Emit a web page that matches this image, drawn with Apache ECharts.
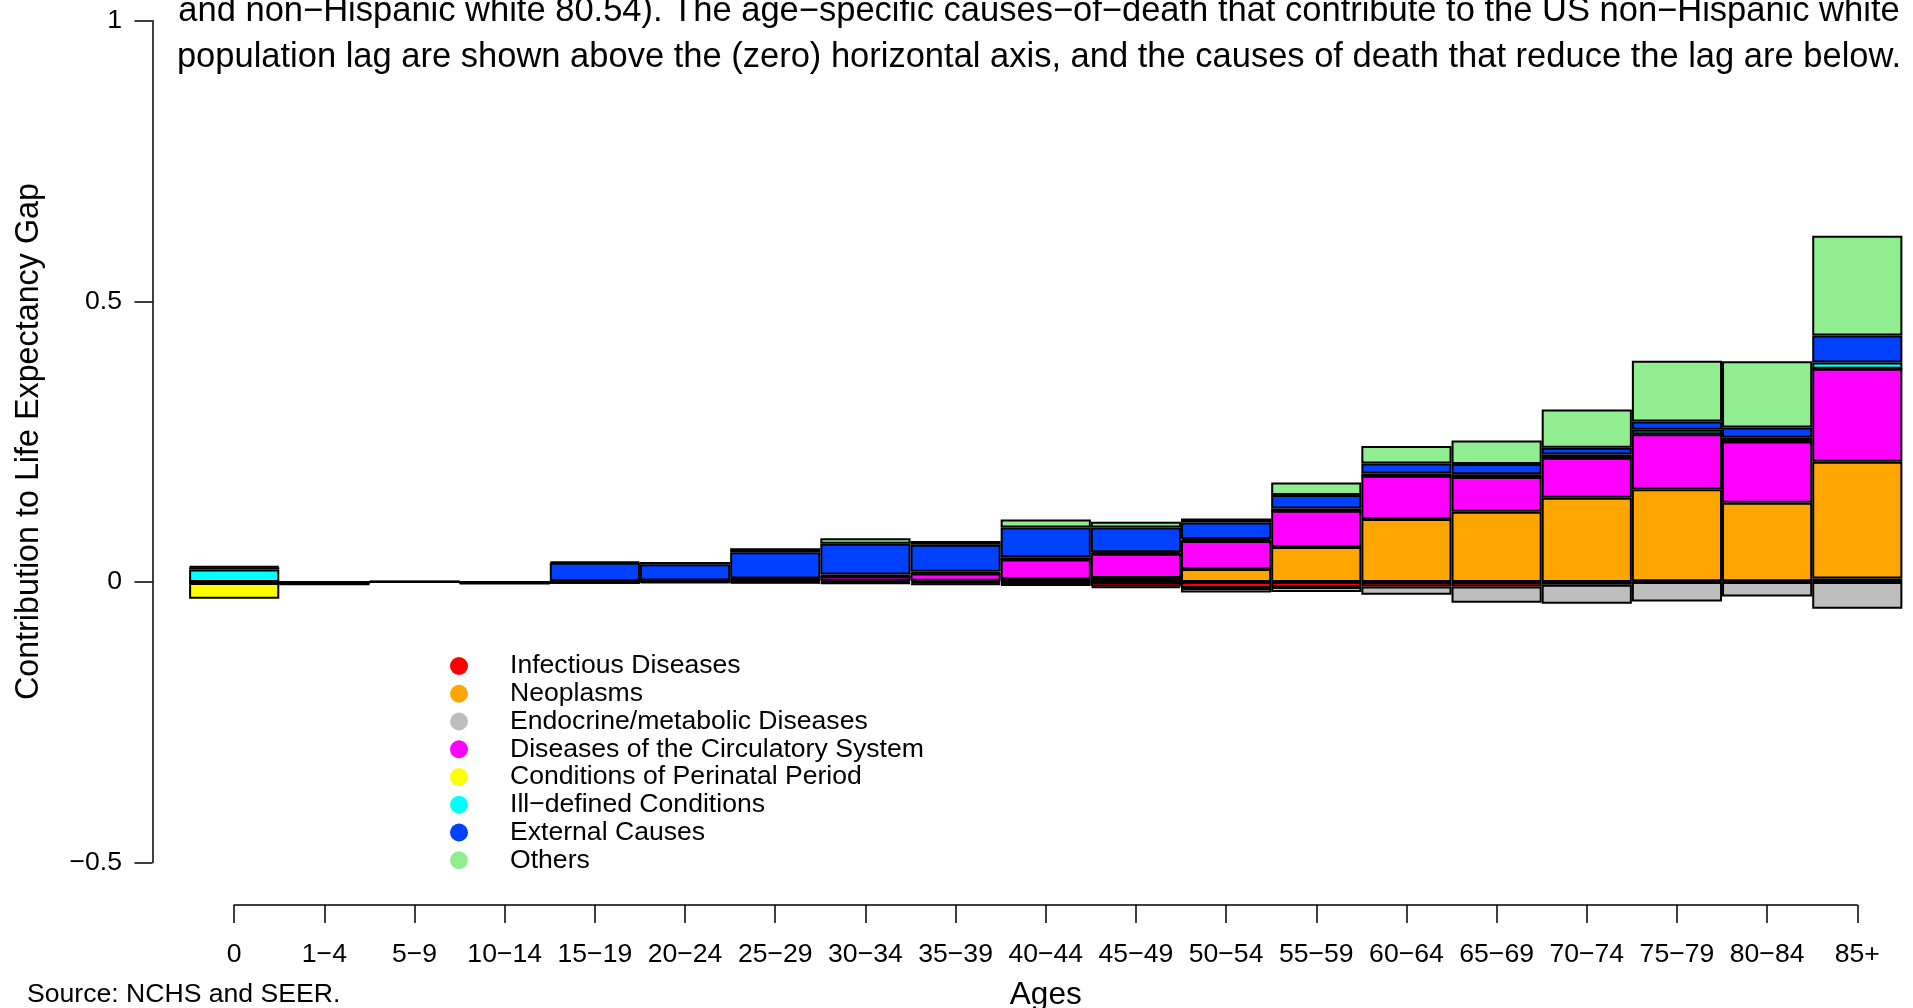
<!DOCTYPE html>
<html><head><meta charset="utf-8">
<script src="https://cdn.jsdelivr.net/npm/echarts@6/dist/echarts.min.js"></script>
<style>html,body{margin:0;padding:0;background:#fff}#c{width:1913px;height:1008px}</style>
</head><body><div id="c"></div>
<script>
const ages = ['0','1\u22124','5\u22129','10\u221214','15\u221219','20\u221224','25\u221229','30\u221234','35\u221239','40\u221244','45\u221249','50\u221254','55\u221259','60\u221264','65\u221269','70\u221274','75\u221279','80\u221284','85+'];
const causes = ['Infectious Diseases','Neoplasms','Endocrine/metabolic Diseases','Diseases of the Circulatory System','Conditions of Perinatal Period','Ill\u2212defined Conditions','External Causes','Others'];
const causeColors = ['#FF0000','#FFA500','#BEBEBE','#FF00FF','#FFFF00','#00FFFF','#0040FF','#90EE90'];
const infectious  = [-0.001,-0.001,0,-0.001,-0.001,-0.002,-0.001,-0.002,-0.003,-0.005,-0.008,-0.011,-0.009,-0.008,-0.008,-0.005,0.001,0.001,0.006];
const neoplasms   = [0,0,0,0,0,0.0005,0.001,0.002,0.002,0.005,0.007,0.023,0.062,0.112,0.125,0.150,0.164,0.140,0.208];
const endocrine   = [-0.001,0,0,0,0,0,-0.001,-0.001,-0.002,-0.001,-0.003,-0.008,-0.009,-0.015,-0.029,-0.034,-0.035,-0.026,-0.048];
const circulatory = [0,0,0,0,0,0.001,0.003,0.008,0.013,0.035,0.043,0.050,0.065,0.077,0.062,0.071,0.098,0.109,0.166];
const perinatal   = [-0.028,-0.001,0,0,0,0,0,0,0,0,0,0,0,0,0,0,0,0,0];
const illDefined  = [0.022,0,0,0,0.001,0.001,0.002,0.003,0.003,0.004,0.003,0.003,0.004,0.004,0.005,0.006,0.008,0.007,0.011];
const external    = [0.004,-0.002,0.0005,-0.002,0.033,0.029,0.047,0.055,0.048,0.053,0.044,0.030,0.024,0.018,0.018,0.012,0.015,0.018,0.048];
const others      = [0.002,0,0.0005,0,0.002,0.004,0.007,0.010,0.007,0.014,0.010,0.007,0.022,0.031,0.042,0.068,0.108,0.118,0.178];
const yTicks = [-0.5, 0, 0.5, 1];
const titleLine1 = 'and non\u2212Hispanic white 80.54). The age\u2212specific causes\u2212of\u2212death that contribute to the US non\u2212Hispanic white';
const titleLine2 = 'population lag are shown above the (zero) horizontal axis, and the causes of death that reduce the lag are below.';
const sourceText = 'Source: NCHS and SEER.';

const seriesValues = [infectious, neoplasms, endocrine, circulatory, perinatal, illDefined, external, others];
const FF = '"Liberation Sans", Arial, sans-serif';
const chart = echarts.init(document.getElementById('c'), null, {renderer:'canvas'});
const gridLeft = 234.2, gridRight = 1913 - 1857.3, gridTop = 20.7, gridBottom = 1008 - 862.5;
const barW = (1857.3 - 234.2) / (ages.length - 1);
const fmtY = v => v === 0 ? '0' : (v < 0 ? '\u2212' + Math.abs(v) : String(v));

chart.setOption({
  animation: false,
  backgroundColor: '#fff',
  textStyle: {fontFamily: FF},
  grid: {left: gridLeft, right: gridRight, top: gridTop, bottom: gridBottom, containLabel: false, outerBoundsMode: 'none'},
  xAxis: {
    type: 'category', data: ages, boundaryGap: false, offset: 42.5,
    axisLine: {show: true, onZero: false, lineStyle: {color: '#000', width: 1.5}},
    axisTick: {show: true, length: 18, alignWithLabel: true, interval: 0, lineStyle: {color: '#000', width: 1.5}},
    axisLabel: {show: true, interval: 0, margin: 36.5, fontSize: 26.6, color: '#000', fontFamily: FF},
    splitLine: {show: false},
    name: 'Ages', nameLocation: 'middle', nameGap: 74,
    nameTextStyle: {fontSize: 31.5, color: '#000', fontFamily: FF}
  },
  yAxis: {
    type: 'value', min: yTicks[0], max: yTicks[yTicks.length - 1], interval: 0.5, offset: 81.7,
    axisLine: {show: true, onZero: false, lineStyle: {color: '#000', width: 1.5}},
    axisTick: {show: true, length: 18, lineStyle: {color: '#000', width: 1.5}},
    axisLabel: {show: true, margin: 30.5, fontSize: 26.6, color: '#000', fontFamily: FF, showMinLabel: true, showMaxLabel: true, formatter: fmtY},
    splitLine: {show: false},
    name: 'Contribution to Life Expectancy Gap', nameLocation: 'middle', nameRotate: 90, nameGap: 107,
    nameTextStyle: {fontSize: 32.3, color: '#000', fontFamily: FF}
  },
  legend: {
    orient: 'vertical', left: 450, top: 652.5, padding: 0, itemGap: 0.75,
    itemWidth: 18, itemHeight: 18, icon: 'circle',
    itemStyle: {borderWidth: 0},
    textStyle: {fontSize: 26.6, lineHeight: 26.6, color: '#000', fontFamily: FF, padding: [0, 0, 0, 37]},
    data: causes
  },
  graphic: [
    {type: 'text', x: 1039, y: 11.5, style: {text: titleLine1, font: '34.5px ' + FF, fill: '#000', align: 'center', verticalAlign: 'middle'}},
    {type: 'text', x: 1039, y: 57.5, style: {text: titleLine2, font: '34.5px ' + FF, fill: '#000', align: 'center', verticalAlign: 'middle'}},
    {type: 'text', x: 27, y: 994.5, style: {text: sourceText, font: '26.6px ' + FF, fill: '#000', align: 'left', verticalAlign: 'middle'}}
  ],
  series: causes.map((name, s) => ({
    name, type: 'bar', stack: 'gap', clip: false, barWidth: barW,
    itemStyle: {color: causeColors[s], borderColor: '#000', borderWidth: 2},
    emphasis: {disabled: true},
    data: seriesValues[s]
  }))
});
</script></body></html>
